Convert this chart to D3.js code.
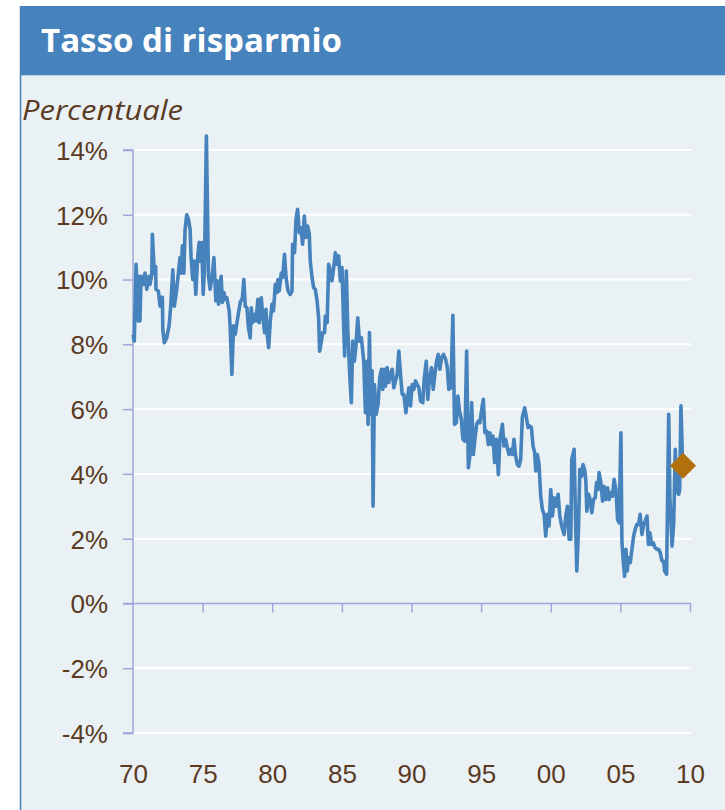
<!DOCTYPE html>
<html><head><meta charset="utf-8">
<script src="https://cdn.jsdelivr.net/npm/d3@7"></script>
<style>html,body{margin:0;padding:0;background:#fff;}svg{display:block;}</style>
</head><body>
<script>
const title = "Tasso di risparmio";
const unitLabel = "Percentuale";
const yTickValues = [-4, -2, 0, 2, 4, 6, 8, 10, 12, 14];
const xTickYears = [1970, 1975, 1980, 1985, 1990, 1995, 2000, 2005, 2010];
const xTickLabels = ["70", "75", "80", "85", "90", "95", "00", "05", "10"];
const years = [1970.0,1970.09,1970.22,1970.38,1970.43,1970.5,1970.58,1970.74,1970.86,1970.99,1971.15,1971.22,1971.35,1971.39,1971.53,1971.63,1971.65,1971.82,1971.94,1972.01,1972.11,1972.14,1972.25,1972.42,1972.59,1972.71,1972.86,1972.97,1973.14,1973.26,1973.38,1973.45,1973.55,1973.65,1973.74,1973.86,1973.98,1974.1,1974.17,1974.29,1974.39,1974.51,1974.63,1974.75,1974.84,1974.94,1975.04,1975.13,1975.27,1975.42,1975.54,1975.71,1975.81,1975.95,1976.06,1976.14,1976.26,1976.33,1976.42,1976.53,1976.62,1976.74,1976.91,1976.98,1977.1,1977.22,1977.34,1977.5,1977.7,1977.86,1977.96,1978.06,1978.18,1978.29,1978.42,1978.49,1978.58,1978.71,1978.83,1978.97,1979.06,1979.21,1979.33,1979.45,1979.55,1979.64,1979.74,1979.86,1979.98,1980.09,1980.22,1980.34,1980.41,1980.5,1980.65,1980.74,1980.88,1980.99,1981.13,1981.29,1981.42,1981.46,1981.6,1981.71,1981.82,1981.94,1982.06,1982.18,1982.3,1982.42,1982.54,1982.66,1982.73,1982.86,1982.97,1983.09,1983.22,1983.33,1983.4,1983.53,1983.62,1983.76,1983.81,1983.94,1984.05,1984.17,1984.29,1984.41,1984.53,1984.65,1984.77,1984.89,1985.01,1985.13,1985.2,1985.32,1985.42,1985.54,1985.61,1985.68,1985.78,1985.9,1986.02,1986.14,1986.26,1986.4,1986.57,1986.69,1986.81,1986.88,1986.98,1987.07,1987.17,1987.24,1987.34,1987.46,1987.6,1987.72,1987.84,1987.94,1988.04,1988.13,1988.25,1988.37,1988.49,1988.61,1988.73,1988.85,1988.97,1989.09,1989.21,1989.33,1989.45,1989.6,1989.81,1989.93,1990.05,1990.17,1990.29,1990.41,1990.53,1990.65,1990.81,1990.91,1991.06,1991.17,1991.29,1991.44,1991.56,1991.68,1991.8,1991.92,1992.04,1992.16,1992.3,1992.45,1992.57,1992.68,1992.83,1992.97,1993.09,1993.22,1993.33,1993.45,1993.58,1993.69,1993.83,1993.96,1994.08,1994.19,1994.32,1994.44,1994.55,1994.68,1994.8,1994.91,1995.04,1995.16,1995.27,1995.4,1995.52,1995.63,1995.76,1995.85,1995.97,1996.09,1996.24,1996.35,1996.53,1996.64,1996.76,1996.88,1997.0,1997.14,1997.24,1997.36,1997.48,1997.6,1997.72,1997.84,1997.96,1998.13,1998.25,1998.37,1998.49,1998.61,1998.73,1998.85,1998.92,1999.04,1999.16,1999.28,1999.4,1999.52,1999.64,1999.76,1999.88,2000.0,2000.12,2000.24,2000.36,2000.53,2000.65,2000.79,2000.96,2001.08,2001.2,2001.32,2001.44,2001.51,2001.68,2001.8,2001.87,2001.99,2002.09,2002.21,2002.32,2002.45,2002.52,2002.59,2002.71,2002.83,2002.95,2003.07,2003.19,2003.29,2003.4,2003.47,2003.6,2003.72,2003.83,2003.96,2004.08,2004.19,2004.32,2004.44,2004.55,2004.68,2004.8,2004.91,2005.04,2005.11,2005.2,2005.3,2005.4,2005.49,2005.59,2005.71,2005.83,2005.95,2006.06,2006.19,2006.31,2006.42,2006.55,2006.67,2006.78,2006.91,2007.01,2007.12,2007.24,2007.36,2007.5,2007.63,2007.75,2007.86,2007.99,2008.11,2008.18,2008.32,2008.47,2008.56,2008.71,2008.83,2008.94,2009.06,2009.19,2009.26,2009.35,2009.47,2009.55];
const rates = [8.3,8.1,10.47,8.72,10.1,8.72,10.1,9.85,10.2,9.7,10.1,9.85,10.15,11.4,10.2,10.4,9.7,9.65,9.18,9.45,9.45,8.46,8.05,8.2,8.57,9.18,10.3,9.18,9.7,10.2,10.68,10.2,11.04,10.2,11.55,12.0,11.86,11.55,10.7,10.0,10.57,9.54,10.63,11.15,10.57,11.14,9.54,10.32,14.43,10.1,9.7,10.2,10.68,9.34,9.96,9.24,9.8,10.1,9.29,9.6,9.39,9.44,9.03,8.52,7.07,8.57,8.31,8.77,9.29,9.44,10.0,9.18,9.13,8.52,8.2,9.13,8.67,8.93,8.72,9.39,8.67,9.44,8.82,8.36,9.08,8.3,7.9,8.72,9.24,9.03,9.85,9.6,10.0,9.65,10.2,10.06,10.78,10.06,9.65,9.54,9.65,11.09,10.83,11.86,12.17,11.45,11.6,11.09,11.96,11.3,11.65,11.4,10.57,10.06,9.75,9.7,9.34,8.82,7.79,8.1,8.36,8.36,8.87,8.67,10.47,10.26,9.96,10.37,10.83,10.47,10.73,9.96,10.37,8.52,7.64,10.26,8.52,7.28,6.71,6.2,8.1,7.48,8.0,8.82,8.1,8.2,7.48,5.89,7.48,5.53,8.36,5.84,7.18,3.0,6.76,5.84,6.15,6.97,7.23,6.61,7.23,6.71,7.28,6.82,7.07,7.23,6.66,6.87,7.07,7.79,7.07,6.46,6.46,5.89,6.66,6.1,6.76,6.61,6.87,6.76,6.66,6.25,6.2,6.92,7.48,6.3,6.92,7.28,6.61,7.07,7.48,7.69,7.23,7.59,7.69,7.54,7.28,6.61,6.66,8.9,5.53,5.58,6.4,5.94,5.68,5.07,5.01,7.79,4.19,4.55,6.2,4.6,5.07,5.53,5.63,5.58,5.99,6.3,5.27,5.32,4.91,5.27,4.91,5.17,4.35,5.07,3.98,5.07,5.53,4.86,5.07,4.81,4.6,4.76,4.6,5.07,4.55,4.29,4.24,4.45,5.74,6.04,5.74,5.43,5.48,5.43,4.86,4.65,4.09,4.6,4.29,3.31,2.9,2.75,2.08,2.75,2.39,3.52,2.7,3.26,3.0,3.37,2.7,2.39,2.13,2.7,3.0,1.98,1.98,4.45,4.76,2.18,1.0,2.29,4.14,3.93,4.29,4.09,3.78,2.85,3.37,3.21,2.8,3.21,3.26,3.73,3.52,4.04,3.73,3.16,3.62,3.21,3.57,3.21,3.42,3.31,3.83,3.52,2.59,2.49,5.27,1.92,1.36,0.84,1.67,1.0,1.41,1.26,1.67,2.08,2.29,2.44,2.44,2.75,2.13,2.44,2.54,2.7,1.82,2.18,1.82,1.87,1.72,1.67,1.67,1.57,1.31,1.31,1.0,0.9,5.84,3.21,1.77,2.49,4.76,3.47,3.37,3.52,6.1,4.24,4.2];
const forecastYear = [2009.5];
const forecastRate = [4.25];

const W = 725, H = 810;
const svg = d3.select("body").append("svg").attr("width", W).attr("height", H);
const brown = "#5b3a1f", lineBlue = "#4682bb", axisCol = "#9da6d9";

// frame
svg.append("rect").attr("x", 20).attr("y", 75).attr("width", W - 20).attr("height", H - 75).attr("fill", "#e9f1f5");
svg.append("rect").attr("x", 20).attr("y", 6).attr("width", W - 20).attr("height", 69).attr("fill", "#4682bb");
svg.append("line").attr("x1", 20).attr("x2", W).attr("y1", 75.5).attr("y2", 75.5).attr("stroke", "#b9d0e6").attr("stroke-width", 1);
svg.append("line").attr("x1", 20.5).attr("x2", 20.5).attr("y1", 6).attr("y2", H).attr("stroke", "#4a7db6").attr("stroke-width", 1.5);

svg.append("text").attr("x", 41).attr("y", 52).text(title)
  .attr("fill", "#fff").attr("font-family", "'Open Sans', sans-serif").attr("font-weight", 700)
  .attr("font-size", 32).attr("textLength", 301).attr("lengthAdjust", "spacingAndGlyphs");
svg.append("text").attr("x", 22).attr("y", 120).text(unitLabel)
  .attr("fill", brown).attr("font-family", "'Open Sans', sans-serif").attr("font-style", "italic")
  .attr("font-size", 28).attr("textLength", 161).attr("lengthAdjust", "spacingAndGlyphs");

const x = d3.scaleLinear().domain([1970, 2010]).range([133, 690]);
const y = d3.scaleLinear().domain([-4, 14]).range([733, 150]);

// gridlines
svg.append("g").selectAll("line").data(yTickValues.filter(v => v !== 0)).join("line")
  .attr("x1", x(1970)).attr("x2", x(2010) + 1).attr("y1", d => y(d)).attr("y2", d => y(d))
  .attr("stroke", "#fff").attr("stroke-width", 2);

// y axis
const yAxis = d3.axisLeft(y).tickValues(yTickValues).tickSize(10).tickFormat(d => d + "%");
const gy = svg.append("g").attr("transform", `translate(${x(1970)},0)`).call(yAxis);
gy.select(".domain").attr("stroke", axisCol).attr("stroke-width", 1.5).attr("d", `M-10,${y(14)}H0V${y(-4)}H-10`);
gy.selectAll(".tick line").attr("stroke", axisCol).attr("stroke-width", 1.5);
gy.selectAll(".tick text").attr("fill", brown).attr("font-family", "'Liberation Sans', Arial, sans-serif")
  .attr("font-size", 26).attr("x", -25).attr("dy", "0.36em");

// x axis at zero
const xAxis = d3.axisBottom(x).tickValues(xTickYears).tickSize(9).tickFormat((d, i) => xTickLabels[i]);
const gx = svg.append("g").attr("transform", `translate(0,${y(0)})`).call(xAxis);
gx.select(".domain").attr("stroke", axisCol).attr("stroke-width", 1.5).attr("d", `M${x(1970) - 10},0H${x(2010) + 1}`);
gx.selectAll(".tick line").attr("stroke", axisCol).attr("stroke-width", 1.5);
gx.selectAll(".tick").filter(d => d === 1970).select("line").remove();
gx.selectAll(".tick text").attr("fill", brown).attr("font-family", "'Liberation Sans', Arial, sans-serif")
  .attr("font-size", 26).attr("y", y(-4) - y(0) + 50).attr("dy", 0);

// series
const data = years.map((yr, i) => ({ yr, v: rates[i] }));
svg.append("path").datum(data)
  .attr("d", d3.line().x(d => x(d.yr)).y(d => y(d.v)))
  .attr("fill", "none").attr("stroke", lineBlue).attr("stroke-width", 3.6).attr("stroke-linejoin", "round");

// forecast marker
svg.append("g").selectAll("path").data(forecastYear.map((yr, i) => ({ yr, v: forecastRate[i] }))).join("path")
  .attr("transform", d => `translate(${x(d.yr)},${y(d.v)}) rotate(45)`)
  .attr("d", d3.symbol().type(d3.symbolSquare).size(340))
  .attr("fill", "#b1700c");
</script>
</body></html>
